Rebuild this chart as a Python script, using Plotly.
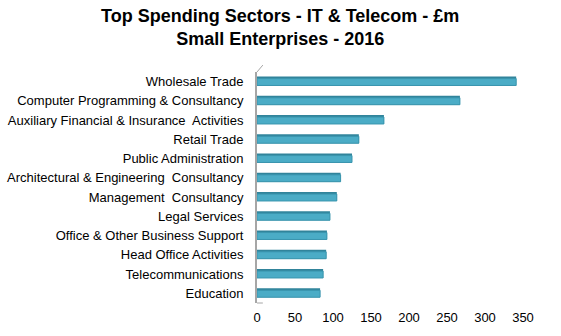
import plotly.graph_objects as go

sectors = [
    "Wholesale Trade",
    "Computer Programming & Consultancy",
    "Auxiliary Financial & Insurance  Activities",
    "Retail Trade",
    "Public Administration",
    "Architectural & Engineering  Consultancy",
    "Management  Consultancy",
    "Legal Services",
    "Office & Other Business Support",
    "Head Office Activities",
    "Telecommunications",
    "Education",
]
spend = [341, 267, 167, 134, 125, 110, 105, 96, 92, 91, 87, 83]
x_ticks = [0, 50, 100, 150, 200, 250, 300, 350]

L, R, T, B = 257, 38, 72, 33
PW = 561 - L - R
PH = 336 - T - B

fig = go.Figure()
# darker top/side face (3D look)
fig.add_trace(go.Bar(
    y=sectors, x=spend, orientation="h",
    marker=dict(color="#31849B", line=dict(width=0)),
    width=0.47, offset=-0.27, hoverinfo="skip", showlegend=False,
))
# front face
fig.add_trace(go.Bar(
    y=sectors, x=spend, orientation="h",
    marker=dict(color="#4BACC6", line=dict(color="#3A95AE", width=1)),
    width=0.36, offset=-0.16, showlegend=False,
))

fig.update_layout(
    barmode="overlay",
    width=561, height=336,
    margin=dict(l=L, r=R, t=T, b=B, autoexpand=False),
    paper_bgcolor="white", plot_bgcolor="white",
    font=dict(family="Liberation Sans, Arial, sans-serif", size=13, color="#000000"),
    xaxis=dict(
        range=[0, 350], tickvals=x_ticks, showgrid=False, zeroline=False,
        showline=False, ticks="", ticklabelstandoff=5, automargin=False,
        tickfont=dict(size=13),
    ),
    yaxis=dict(
        autorange="reversed", showgrid=False, zeroline=False,
        showline=True, linecolor="#A6A6A6", linewidth=2, ticks="",
        ticklabelstandoff=9, automargin=False, tickfont=dict(size=13),
    ),
)
fig.add_annotation(
    text="<b>Top Spending Sectors - IT &amp; Telecom - £m<br>Small Enterprises - 2016</b>",
    xref="paper", yref="paper", x=(280 - L) / PW, xanchor="center",
    y=1 + (T - 4) / PH, yanchor="top", showarrow=False,
    font=dict(family="Liberation Sans, Arial, sans-serif", size=18, color="#000000"),
)
fig.add_shape(type="line", xref="paper", yref="paper",
              x0=0, y0=0, x1=0.022, y1=-0.0, line=dict(color="#A6A6A6", width=1))
fig.add_shape(type="line", xref="paper", yref="paper",
              x0=0, y0=1.0, x1=0.022, y1=1.03, line=dict(color="#A6A6A6", width=1))

fig.write_html("out.html")
